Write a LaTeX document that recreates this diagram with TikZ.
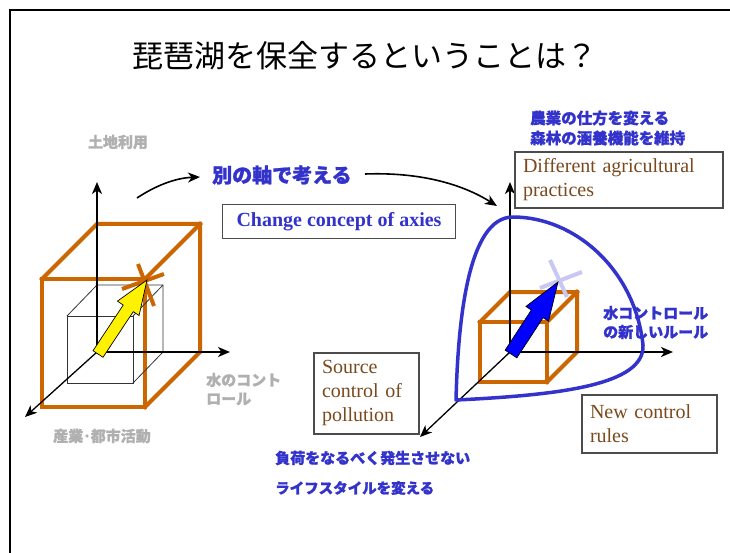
\documentclass[tikz,border=0pt]{standalone}
\usepackage{fontspec}
\setmainfont{Liberation Serif}
\newfontfamily\jp{Noto Sans CJK JP}[BoldFeatures={FakeBold=1.2}]
\usetikzlibrary{arrows.meta,calc}
\definecolor{orng}{HTML}{CC6600}
\definecolor{lblue}{HTML}{3333CC}
\definecolor{brn}{HTML}{7A4A1E}
\definecolor{gtxt}{HTML}{B0B0B0}
\definecolor{lav}{HTML}{C8C8F2}
\tikzset{
 axis/.style={line width=2pt, -{Stealth[length=12pt,width=10pt,inset=3.5pt]}},
 daxis/.style={line width=1.3pt, -{Stealth[length=12pt,width=10pt,inset=3.5pt]}},
 cube/.style={draw=orng, line width=4pt, line join=miter, line cap=rect},
 thincube/.style={draw=black!80, line width=0.8pt},
 box/.style={draw=black!70, line width=1.2pt, fill=white, inner xsep=8pt, inner ysep=0pt, align=left,
   font=\fontsize{20}{24}\selectfont, text=brn},
 bluelab/.style={font=\jp\bfseries\fontsize{15.5}{20}\selectfont, text=lblue, inner sep=0pt, anchor=west},
 graylab/.style={font=\jp\bfseries\fontsize{15}{19}\selectfont, text=gtxt, inner sep=0pt},
 fatarrow/.style={draw=black, line width=0.7pt, line join=miter},
 curvearrow/.style={line width=1.6pt, -{Stealth[length=12pt,width=10pt,inset=3.5pt]}},
 crossmark/.style={line width=4pt},
}
\begin{document}
\begin{tikzpicture}[x=1pt,y=-1pt]
\useasboundingbox (0,0) rectangle (730,553);
\fill[white] (0,0) rectangle (730,553);
% frame
\draw[line width=2pt] (10,553) -- (10,10) -- (730,10);

% title
\node (title) at (365,56) {\jp\fontsize{31}{36}\selectfont 琵琶湖を保全するということは？};

% ---------- left cube ----------
\coordinate (O1) at (97,352);
\coordinate (Y1) at (97,182);
\coordinate (X1) at (230,352);
\coordinate (Z1) at (25,417);
% big orange cube
\draw[cube] (42,279) rectangle (145,407);
\draw[cube] (42,279) -- (97,224) -- (200,224) -- (200,352) -- (145,407);
\draw[cube] (145,279) -- (200,224);
% thin inner cube
\draw[thincube] (67,316) rectangle (133,383);
\draw[thincube] (67,316) -- (97,285) -- (163,285) -- (163,352) -- (133,383);
\draw[thincube] (133,316) -- (163,285);
% axes
\draw[axis] (O1) -- (Y1);
\draw[axis] (O1) -- (X1);
\draw[daxis] (O1) -- (Z1);
% orange cross
\draw[crossmark, orng] (138,264) -- (154,306);
\draw[crossmark, orng] (122,289) -- (164,274);
% yellow arrow
\coordinate (ya) at (98,354);
\coordinate (yb) at (147,280);
\coordinate (yh) at ($(yb)!34pt!(ya)$);
\filldraw[fill=yellow, fatarrow] ($(ya)!6pt!90:(yb)$) -- ($(yh)!6pt!90:(yb)$) -- ($(yh)!13pt!90:(yb)$) -- (yb)
  -- ($(yh)!13pt!-90:(yb)$) -- ($(yh)!6pt!-90:(yb)$) -- ($(ya)!6pt!-90:(yb)$) -- cycle;
% gray labels
\node[graylab] (lu) at (118,142) {土地利用};
\node[graylab, anchor=west] (wc1) at (206,380) {水のコント};
\node[graylab, anchor=west] (wc2) at (206,399) {ロール};
\node[graylab] (ind) at (102,436) {産業･都市活動};

% ---------- middle ----------
\coordinate (c1s) at (137,198);
\coordinate (c1e) at (200,177);
\draw[curvearrow] (c1s) .. controls (155,186) and (175,178) .. (c1e);
\node[bluelab, font=\jp\bfseries\fontsize{20}{24}\selectfont] (betsu) at (212,175) {別の軸で考える};
\coordinate (c2s) at (365,174);
\coordinate (c2e) at (497,206);
\draw[curvearrow] (c2s) .. controls (420,172) and (462,184) .. (c2e);
\node[box, minimum width=233pt, minimum height=34pt, text=lblue, font=\bfseries\fontsize{20}{24}\selectfont, align=center] (chg) at (339,221.5) {Change concept of axies};

% ---------- right cube ----------
\coordinate (O2) at (510,352);
\coordinate (Y2) at (510,182);
\coordinate (X2) at (673,352);
\coordinate (Z2) at (420,437);
\draw[cube] (480,322) rectangle (547,382);
\draw[cube] (480,322) -- (510,292) -- (577,292) -- (577,352) -- (547,382);
\draw[cube] (547,322) -- (577,292);
\draw[axis] (O2) -- (Y2);
\draw[axis] (O2) -- (X2);
\draw[daxis] (O2) -- (Z2);
% blue closed curve
\draw[lblue, line width=3.5pt, line join=round] (456,400) .. controls (458,320) and (468,217) .. (513,217)
  .. controls (575,217) and (635,270) .. (643,345)
  .. controls (645,385) and (560,395) .. (456,400) -- cycle;
% light cross
\draw[crossmark, lav] (550,260) -- (567,297);
\draw[crossmark, lav] (540,288) -- (582,272);
% blue arrow
\coordinate (ba) at (511,354);
\coordinate (bb) at (558,282);
\coordinate (bh) at ($(bb)!38pt!(ba)$);
\filldraw[fill=blue, fatarrow] ($(ba)!7pt!90:(bb)$) -- ($(bh)!7pt!90:(bb)$) -- ($(bh)!13.5pt!90:(bb)$) -- (bb)
  -- ($(bh)!13.5pt!-90:(bb)$) -- ($(bh)!7pt!-90:(bb)$) -- ($(ba)!7pt!-90:(bb)$) -- cycle;

% boxes
\node[box, minimum width=208pt, minimum height=56pt, text width=192pt] (agr) at (619,180) {Different agricultural\\practices};
\node[box, minimum width=105pt, minimum height=81pt, text width=89pt] (src) at (366.5,393.5) {Source\\control of\\pollution};
\node[box, minimum width=135pt, minimum height=58pt, text width=119pt] (ncr) at (649.5,424) {New control\\rules};

% blue labels
\node[bluelab] (b1) at (530,118) {農業の仕方を変える};
\node[bluelab] (b2) at (530,138) {森林の涵養機能を維持};
\node[bluelab, font=\jp\bfseries\fontsize{15}{19}\selectfont] (b3) at (603,313) {水コントロール};
\node[bluelab, font=\jp\bfseries\fontsize{15}{19}\selectfont] (b4) at (603,332) {の新しいルール};
\node[bluelab, font=\jp\bfseries\fontsize{15}{19}\selectfont] (b5) at (275,458) {負荷をなるべく発生させない};
\node[bluelab, font=\jp\bfseries\fontsize{14.5}{19}\selectfont] (b6) at (275,488) {ライフスタイルを変える};
\end{tikzpicture}
\end{document}
